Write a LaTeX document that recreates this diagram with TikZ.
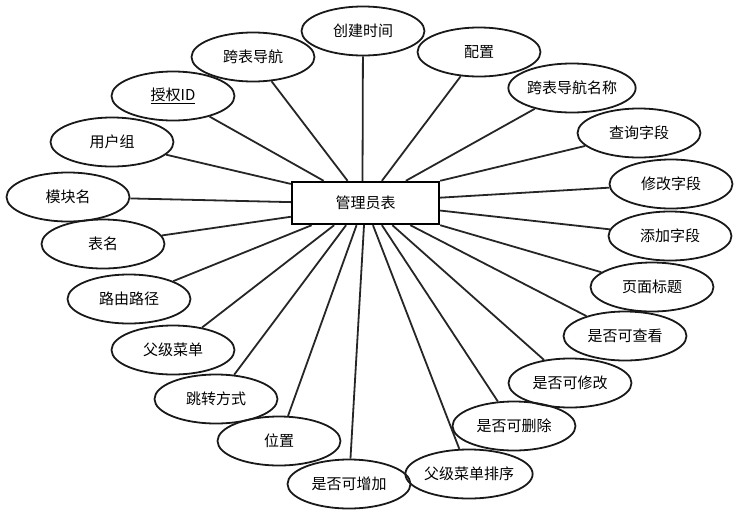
\documentclass[tikz,border=0pt]{standalone}
\usepackage{fontspec}
\setmainfont{Noto Sans CJK SC}
\usetikzlibrary{shapes.geometric,calc}
\begin{document}
\begin{tikzpicture}[x=1pt,y=-1pt,
  attr/.style={ellipse,draw=black!90,line width=1.8pt,minimum width=123pt,minimum height=49pt,inner sep=0pt,font=\fontsize{15}{18}\selectfont},
  ent/.style={rectangle,draw=black,line width=2.4pt,minimum width=147pt,minimum height=42pt,inner sep=0pt,font=\fontsize{15}{18}\selectfont},
  conn/.style={draw=black!85,line width=1.8pt}]
\useasboundingbox (0,0) rectangle (744,517);
\node[ent] (m) at (365.5,203) {管理员表};
\node[attr] (e1) at (363,31) {创建时间};
\node[attr] (e2) at (253,57) {跨表导航};
\node[attr] (e3) at (173,96) {\underline{授权ID}};
\node[attr] (e4) at (112,142) {用户组};
\node[attr] (e5) at (68,197) {模块名};
\node[attr] (e6) at (103,244) {表名};
\node[attr] (e7) at (129,299) {路由路径};
\node[attr] (e8) at (173,350) {父级菜单};
\node[attr] (e9) at (216,399) {跳转方式};
\node[attr] (e10) at (279,441) {位置};
\node[attr] (e11) at (349,484) {是否可增加};
\node[attr] (e12) at (469,474) {父级菜单排序};
\node[attr] (e13) at (514,426) {是否可删除};
\node[attr] (e14) at (570,383) {是否可修改};
\node[attr] (e15) at (625,336) {是否可查看};
\node[attr] (e16) at (652,287) {页面标题};
\node[attr] (e17) at (670,236) {添加字段};
\node[attr] (e18) at (671,184) {修改字段};
\node[attr] (e19) at (639,133) {查询字段};
\node[attr] (e20) at (572,88) {跨表导航名称};
\node[attr] (e21) at (479,52) {配置};
% top side
\draw[conn] ($(m.north west)!0.48!(m.north east)$) -- (e1);
\draw[conn] ($(m.north west)!0.38!(m.north east)$) -- (e2);
\draw[conn] ($(m.north west)!0.22!(m.north east)$) -- (e3);
\draw[conn] ($(m.north west)!0.61!(m.north east)$) -- (e21);
\draw[conn] ($(m.north west)!0.77!(m.north east)$) -- (e20);
\draw[conn] (m.north east) -- (e19);
% left side
\draw[conn] ($(m.north west)!0.07!(m.south west)$) -- (e4);
\draw[conn] ($(m.north west)!0.48!(m.south west)$) -- (e5);
\draw[conn] ($(m.north west)!0.81!(m.south west)$) -- (e6);
% right side
\draw[conn] ($(m.north east)!0.38!(m.south east)$) -- (e18);
\draw[conn] ($(m.north east)!0.67!(m.south east)$) -- (e17);
% bottom side
\draw[conn] ($(m.south west)!0.14!(m.south east)$) -- (e7);
\draw[conn] ($(m.south west)!0.29!(m.south east)$) -- (e8);
\draw[conn] ($(m.south west)!0.37!(m.south east)$) -- (e9);
\draw[conn] ($(m.south west)!0.44!(m.south east)$) -- (e10);
\draw[conn] ($(m.south west)!0.49!(m.south east)$) -- (e11);
\draw[conn] ($(m.south west)!0.55!(m.south east)$) -- (e12);
\draw[conn] ($(m.south west)!0.61!(m.south east)$) -- (e13);
\draw[conn] ($(m.south west)!0.68!(m.south east)$) -- (e14);
\draw[conn] ($(m.south west)!0.80!(m.south east)$) -- (e15);
\draw[conn] (m.south east) -- (e16);
\end{tikzpicture}
\end{document}
